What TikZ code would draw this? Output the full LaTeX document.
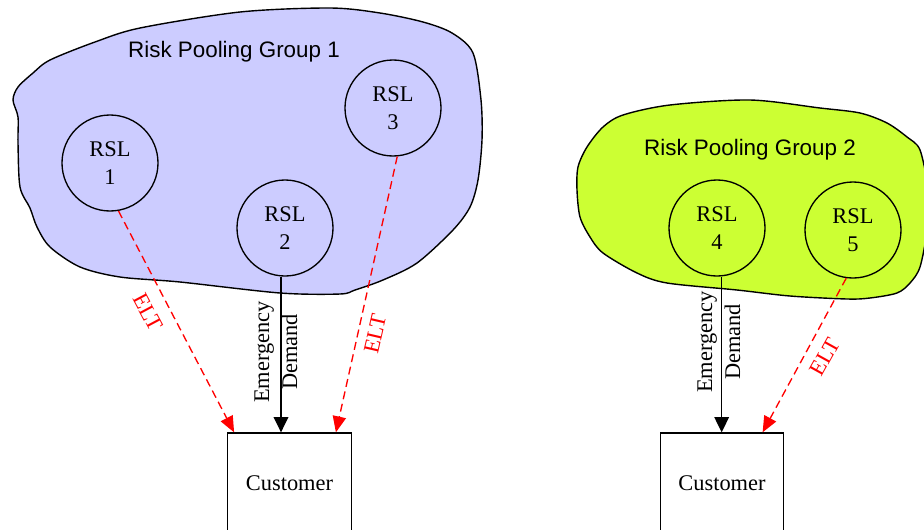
\documentclass[tikz,border=0pt]{standalone}
\usepackage{fontspec}
\setmainfont{Liberation Serif}
\newfontfamily\grpfont{Liberation Sans}
\usetikzlibrary{arrows.meta,calc}
\definecolor{poolA}{HTML}{CCCCFF}
\definecolor{poolB}{HTML}{CCFF33}
\begin{document}
\begin{tikzpicture}[x=0.75pt,y=-0.75pt,
  txt/.style={font=\fontsize{16.8}{21}\selectfont},
  rsl/.style={draw, circle, line width=1pt, minimum size=72pt, inner sep=0pt, align=center, txt},
  cust/.style={draw, rectangle, line width=1pt, minimum width=92.6pt, minimum height=75pt, inner sep=0pt, txt},
  blob/.style={line width=1.05pt},
  grp/.style={font=\grpfont\fontsize{16.8}{20}\selectfont, anchor=base, inner sep=0pt},
  demand/.style={line width=1.05pt, -{Triangle[length=11.5pt,width=11pt]}},
  elt/.style={red, line width=1pt, dash pattern=on 6pt off 3.5pt, -{Triangle[length=12pt,width=10pt]}},
  eltlbl/.style={red, txt, inner sep=0pt},
  dlbl/.style={txt, align=center, inner sep=0pt, rotate=90}
]
\useasboundingbox (0,0) rectangle (924,529);

% risk pooling group 1
\filldraw[blob, fill=poolA] plot[smooth cycle, tension=0.5] coordinates {
  (13,100) (18,117) (18,143) (20,187) (30,208) (37,227) (50,247) (80,267)
  (120,277) (180,282) (280,293) (340,294) (355,290) (383,280) (417,263)
  (453,230) (470,207) (478,180) (482,140) (481,100) (473,53) (452,33)
  (423,22) (380,13) (330,8) (240,12) (140,28) (95,42) (50,60) (33,73) (18,87)};

% risk pooling group 2
\filldraw[blob, fill=poolB] plot[smooth cycle, tension=0.5] coordinates {
  (577,190) (580,217) (590,237) (603,253) (637,273) (667,283) (737,290)
  (790,296) (847,299) (870,298) (897,293) (910,283) (920,267) (927,230)
  (928,190) (920,150) (907,137) (887,123) (860,113) (820,108) (750,100)
  (670,105) (623,115) (603,127) (587,147) (578,167)};

\node[grp] (g1) at (234,57.3) {Risk Pooling Group 1};
\node[grp] (g2) at (750,155) {Risk Pooling Group 2};

% stocking locations
\node[rsl] (rsl1) at (110,163) {RSL\\1};
\node[rsl] (rsl2) at (285,228) {RSL\\2};
\node[rsl] (rsl3) at (393,108) {RSL\\3};
\node[rsl] (rsl4) at (717,228) {RSL\\4};
\node[rsl] (rsl5) at (853,230) {RSL\\5};

% customers
\node[cust] (cust1) at (289.5,483) {Customer};
\node[cust] (cust2) at (722,483) {Customer};

% emergency demand
\draw[demand] ([xshift=-3pt]rsl2.south) -- ([xshift=-3pt]rsl2.south |- cust1.north);
\draw[demand] ([xshift=3.5pt]rsl4.south) -- ([xshift=3.5pt]rsl4.south |- cust2.north);
\node[dlbl] (em1) at (276,352) {Emergency\\Demand};
\node[dlbl] (em2) at (719,342) {Emergency\\Demand};

% emergency lateral transshipments
\draw[elt] (rsl1.-80) -- ($(cust1.north west)+(7,0)$);
\draw[elt] (rsl3.-85) -- ($(cust1.north east)+(-16,0)$);
\draw[elt] (rsl5.-98) -- ($(cust2.north west)+(103,0)$);
\node[eltlbl, rotate=-62] (elt1) at (148,312) {ELT};
\node[eltlbl, rotate=77] (elt3) at (375,334) {ELT};
\node[eltlbl, rotate=61] (elt5) at (825,357) {ELT};
\end{tikzpicture}
\end{document}
